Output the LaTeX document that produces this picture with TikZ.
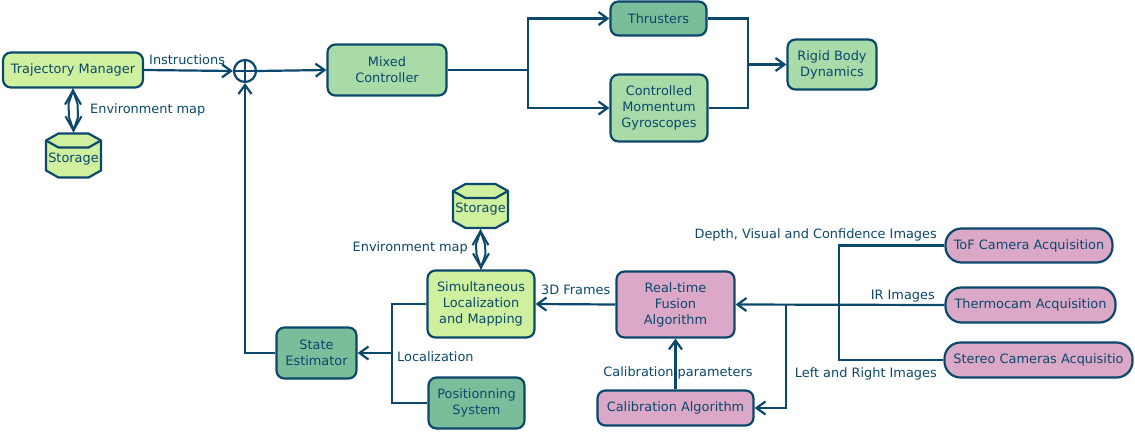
\documentclass[tikz,border=0pt]{standalone}
\usepackage{fontspec}
\setmainfont{DejaVu Sans}
\usetikzlibrary{arrows.meta,calc}
\definecolor{edge}{HTML}{0B486B}
\definecolor{txt}{HTML}{0B486B}
\definecolor{lg}{HTML}{CFF09E}
\definecolor{mg}{HTML}{A8DBA8}
\definecolor{dg}{HTML}{79BD9A}
\definecolor{pk}{HTML}{DBA8C8}
\newcommand\fsz{\fontsize{12.9}{16}\selectfont}
\tikzset{
  box/.style={draw=edge, line width=2.2pt, rounded corners=8pt, text=txt, align=center, inner sep=0pt, font=\fsz},
  pill/.style={box, rounded corners=16pt},
  lbl/.style={text=txt, inner sep=0pt, font=\fsz, text height=9.5pt, text depth=2.5pt},
  arr/.style={draw=edge, line width=2.2pt, -{Straight Barb[length=9pt,width=13pt]}},
  wire/.style={draw=edge, line width=2.2pt},
  dblw/.style={draw=edge, line width=2pt, line join=miter},
  storshape/.style={draw=edge, line width=2.2pt, fill=lg, line join=round},
}
\newcommand\storagebody{%
  \draw[storshape] (-27.5,-15) -- (-15,-22) -- (15,-22) -- (27.5,-15) -- (27.5,15) -- (15,22) -- (-15,22) -- (-27.5,15) -- cycle;
  \draw[storshape, fill=none] (-27.5,-15) -- (-15,-8) -- (15,-8) -- (27.5,-15);}
% vertical double arrow between two named anchors (upper, lower)
\newcommand\dblarrow[2]{%
  \coordinate (dp) at ($(#1)+(0,2)$);
  \coordinate (dq) at ($(#2)+(0,-2)$);
  \draw[dblw] ($(dp)+(-8,14)$) -- (dp) -- ($(dp)+(8,14)$);
  \draw[dblw] ($(dq)+(-8,-14)$) -- (dq) -- ($(dq)+(8,-14)$);
  \draw[dblw] (dp) -- ($(dp)+(-4.5,13)$) -- ($(dq)+(-4.5,-13)$) -- (dq) -- ($(dq)+(4.5,-13)$) -- ($(dp)+(4.5,13)$) -- cycle;}
\begin{document}
\begin{tikzpicture}[x=1pt,y=-1pt]
\useasboundingbox (0,0) rectangle (1135,432);
% storages
\begin{scope}[shift={(73.5,155.5)}]\storagebody\end{scope}
\node[minimum width=55pt, minimum height=46pt, inner sep=0pt] (st1) at (73.5,155.5) {};
\node[lbl] (st1t) at (73.5,158.5) {Storage};
\begin{scope}[shift={(480.5,206)}]\storagebody\end{scope}
\node[minimum width=55pt, minimum height=46pt, inner sep=0pt] (st2) at (480.5,206) {};
\node[lbl] (st2t) at (480.5,209) {Storage};
% boxes
\node[box, fill=lg, minimum width=140pt, minimum height=35pt] (tm) at (73,70) {Trajectory Manager};
\node[draw=edge, line width=2.2pt, circle, minimum size=22pt, inner sep=0pt] (sum) at (245,71) {};
\draw[wire] (sum.north) -- (sum.south) (sum.west) -- (sum.east);
\node[box, fill=mg, minimum width=119pt, minimum height=51pt] (mc) at (387,70) {Mixed\\Controller};
\node[box, fill=dg, minimum width=96pt, minimum height=34pt] (th) at (658.5,18.5) {Thrusters};
\node[box, fill=mg, minimum width=97pt, minimum height=67pt] (cmg) at (659,108) {Controlled\\Momentum\\Gyroscopes};
\node[box, fill=mg, minimum width=89pt, minimum height=50pt] (rb) at (832,64.5) {Rigid Body\\Dynamics};
\node[box, fill=lg, minimum width=107pt, minimum height=67pt] (slam) at (481,304) {Simultaneous\\Localization\\and Mapping};
\node[box, fill=pk, minimum width=118pt, minimum height=66pt] (rtf) at (675.5,304.5) {Real-time\\Fusion\\Algorithm};
\node[box, fill=dg, minimum width=80pt, minimum height=51pt] (se) at (316.5,353) {State\\Estimator};
\node[box, fill=dg, minimum width=96pt, minimum height=51pt] (ps) at (476.5,403) {Positionning\\System};
\node[box, fill=pk, minimum width=156pt, minimum height=35pt] (ca) at (675.5,408) {Calibration Algorithm};
\node[pill, fill=pk, minimum width=167pt, minimum height=34pt] (tof) at (1029,245.5) {ToF Camera Acquisition};
\node[pill, fill=pk, minimum width=170pt, minimum height=35pt] (thc) at (1030.5,305) {Thermocam Acquisition};
\node[pill, fill=pk, minimum width=188pt, minimum height=35pt] (sca) at (1038.5,360) {Stereo Cameras Acquisitio};
% junctions
\coordinate (j1) at (528,70);
\coordinate (j2) at (748,64.5);
\coordinate (j3) at (392,353);
\coordinate (j4) at (839,305);
\coordinate (j5) at (786,305);
% connectors
\dblarrow{tm.south}{st1.north}
\draw[arr] (tm.east) -- (sum.west);
\draw[arr] (se.west) -| (sum.south);
\draw[arr] (sum.east) -- (mc.west);
\draw[wire] (mc.east) -- (j1);
\draw[arr] (j1) |- (th.west);
\draw[arr] (j1) |- (cmg.west);
\draw[wire] (th.east) -| (j2);
\draw[wire] (cmg.east) -| (j2);
\draw[arr] (j2) -- (rb.west);
\dblarrow{st2.south}{slam.north}
\draw[arr] (rtf.west) -- (slam.east);
\draw[wire] (slam.west) -| (j3) |- (ps.west);
\draw[arr] (j3) -- (se.east);
\draw[arr] (ca.north) -- (rtf.south);
\draw[wire] (tof.west) -| (j4) |- (sca.west);
\draw[arr] (thc.west) -- (rtf.east);
\draw[arr] (j5) |- (ca.east);
% labels
\node[lbl, anchor=west] (l1) at (149,61) {Instructions};
\node[lbl, anchor=west] (l2) at (90,110) {Environment map};
\node[lbl, anchor=east] (l3) at (468,248) {Environment map};
\node[lbl, anchor=west] (l4) at (541,291) {3D Frames};
\node[lbl, anchor=west] (l5) at (397,358) {Localization};
\node[lbl] (l6) at (678,373) {Calibration parameters};
\node[lbl, anchor=east] (l7) at (937,235) {Depth, Visual and Confidence Images};
\node[lbl, anchor=east] (l8) at (935,296) {IR Images};
\node[lbl, anchor=east] (l9) at (937,374) {Left and Right Images};
\end{tikzpicture}
\end{document}
